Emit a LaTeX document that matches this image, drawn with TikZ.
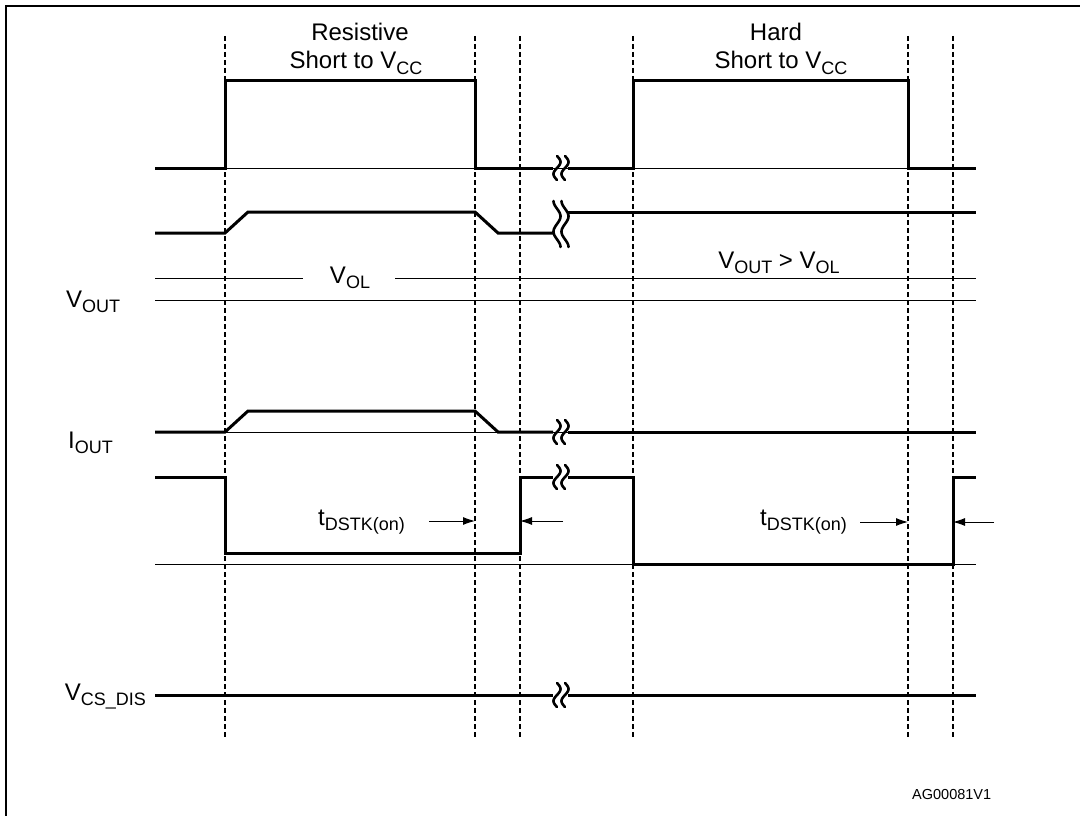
\documentclass[tikz,border=0pt]{standalone}
\usepackage{fontspec}
\setmainfont{Liberation Sans}
\usetikzlibrary{arrows.meta}
\newcommand\sbs[1]{\raisebox{-0.22em}{\fontsize{18pt}{18pt}\selectfont #1}}
\newcommand\smallbrk[2]{%
  \foreach \dx in {-4,4}{\draw[wv] plot[domain=-12:12,samples=31,smooth] ({#1+\dx-3.5*sin(\x*15)},{#2+\x});}}
\newcommand\tallbrk[2]{%
  \foreach \dx in {-4,4}{\draw[wv] plot[domain=-23:23,samples=51,smooth] ({#1+\dx-3.5*sin(\x*270/23)},{#2+\x});}}
\begin{document}
\begin{tikzpicture}[x=1pt,y=-1pt,
  sigl/.style={line width=3pt,line join=miter,line cap=butt},
  thinl/.style={line width=0.9pt},
  dashv/.style={line width=1.2pt,dash pattern=on 5pt off 3pt},
  wv/.style={line width=2.6pt,line cap=round},
  frm/.style={line width=2.6pt},
  lbl/.style={inner sep=0pt,font=\fontsize{24pt}{28pt}\selectfont},
  small/.style={inner sep=0pt,font=\fontsize{14.5pt}{16pt}\selectfont},
  dimarr/.style={line width=1pt,-{Latex[length=12pt,width=8pt]}}]
\useasboundingbox (0,0) rectangle (1080,816);
% frame
\draw[frm] (6,816) -- (6,6) -- (1080,6);
% dashed verticals
\foreach \xx in {225,475,520,633,908,953} \draw[dashv] (\xx,36) -- (\xx,738);
% thin reference lines
\draw[thinl] (155,168) -- (976,168);
\draw[thinl] (155,278) -- (303,278) (395,278) -- (976,278);
\draw[thinl] (155,300) -- (976,300);
\draw[thinl] (155,432) -- (976,432);
\draw[thinl] (155,564) -- (976,564);
% signals
\draw[sigl] (155,168) -- (225,168) -- (225,81) -- (475,81) -- (475,168) -- (553,168);
\draw[sigl] (568,168) -- (633,168) -- (633,81) -- (908,81) -- (908,168) -- (976,168);
\draw[sigl] (155,233) -- (225,233) -- (248,212) -- (475,212) -- (498,233) -- (553,233);
\draw[sigl] (568,212) -- (976,212);
\draw[sigl] (155,432) -- (225,432) -- (248,411) -- (475,411) -- (498,432) -- (553,432);
\draw[sigl] (568,432) -- (976,432);
\draw[sigl] (155,477) -- (225,477) -- (225,553) -- (520,553) -- (520,477) -- (553,477);
\draw[sigl] (568,477) -- (633,477) -- (633,564) -- (953,564) -- (953,477) -- (976,477);
\draw[sigl] (155,695) -- (553,695) (568,695) -- (976,695);
% breaks
\smallbrk{561}{168}
\tallbrk{561}{224}
\smallbrk{561}{432}
\smallbrk{561}{477}
\smallbrk{561}{695}
% labels
\node[lbl,anchor=base] (res1) at (360,41) {Resistive};
\node[lbl,anchor=base] (res2) at (356,69) {Short to V\sbs{CC}};
\node[lbl,anchor=base] (hard1) at (776,41) {Hard};
\node[lbl,anchor=base] (hard2) at (781,69) {Short to V\sbs{CC}};
\node[lbl,anchor=base] (vol) at (350,283) {V\sbs{OL}};
\node[lbl,anchor=base] (vgt) at (779,268) {V\sbs{OUT} > V\sbs{OL}};
\node[lbl,anchor=base west] (vout) at (66,307) {V\sbs{OUT}};
\node[lbl,anchor=base west] (iout) at (68,448) {I\sbs{OUT}};
\node[lbl,anchor=base east] (vcs) at (146,700) {V\sbs{CS\_DIS}};
\node[lbl,anchor=base east] (td1) at (405,525) {t\sbs{DSTK(on)}};
\node[lbl,anchor=base east] (td2) at (847,525) {t\sbs{DSTK(on)}};
\node[small,anchor=base west] (ag) at (912,799) {AG00081V1};
% dimension arrows
\coordinate (a1s) at (429,521); \coordinate (a1e) at (475,521);
\coordinate (a2s) at (563,521); \coordinate (a2e) at (520,521);
\coordinate (a3s) at (860,522); \coordinate (a3e) at (908,522);
\coordinate (a4s) at (994,522); \coordinate (a4e) at (953,522);
\draw[dimarr] (a1s) -- (a1e);
\draw[dimarr] (a2s) -- (a2e);
\draw[dimarr] (a3s) -- (a3e);
\draw[dimarr] (a4s) -- (a4e);
\end{tikzpicture}
\end{document}
